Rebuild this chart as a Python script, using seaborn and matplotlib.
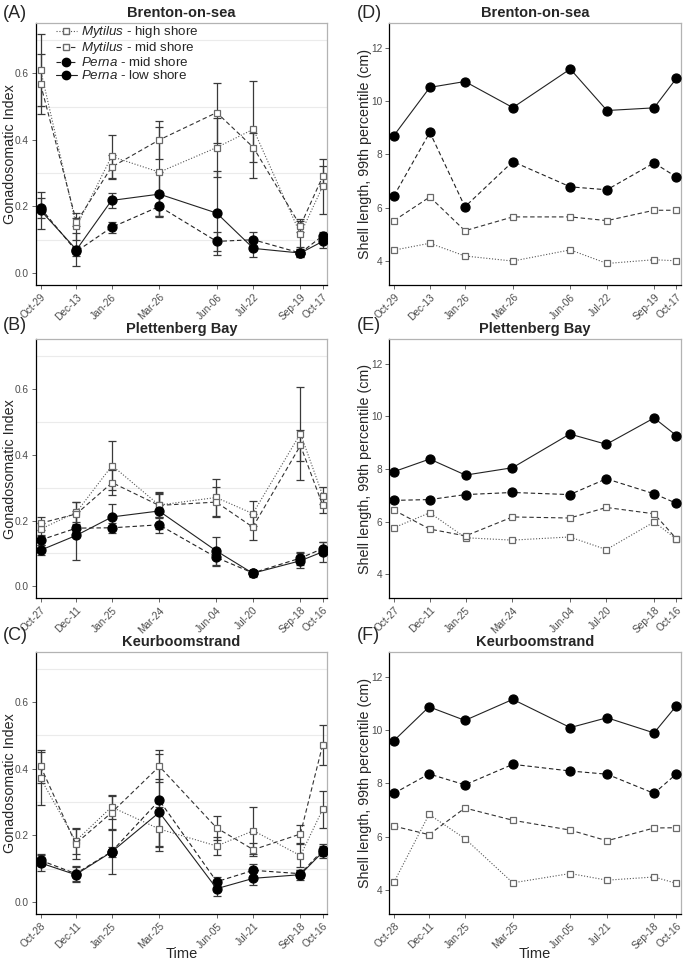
import numpy as np
import pandas as pd
import matplotlib
matplotlib.use("Agg")
import matplotlib.pyplot as plt
import matplotlib.dates as mdates
from matplotlib.lines import Line2D
import seaborn as sns

sns.set_theme(style="white")
plt.rcParams['font.family'] = ['Liberation Sans', 'DejaVu Sans']
plt.rcParams['mathtext.fontset'] = 'custom'
plt.rcParams['mathtext.it'] = 'Liberation Sans:italic'
plt.rcParams['mathtext.rm'] = 'Liberation Sans'

sites = ['Brenton-on-sea', 'Plettenberg Bay', 'Keurboomstrand']

brenton_dates = ['2015-10-29', '2015-12-13', '2016-01-26', '2016-03-26',
                 '2016-06-06', '2016-07-22', '2016-09-19', '2016-10-17']
plett_dates = ['2015-10-27', '2015-12-11', '2016-01-25', '2016-03-24',
               '2016-06-04', '2016-07-20', '2016-09-18', '2016-10-16']
keur_dates = ['2015-10-28', '2015-12-11', '2016-01-25', '2016-03-25',
              '2016-06-05', '2016-07-21', '2016-09-18', '2016-10-16']

# gonadosomatic index (mean, se) per group
brenton_gsi = {
    'myt_high': [0.61, 0.14, 0.35, 0.303, 0.377, 0.432, 0.117, 0.26],
    'myt_mid': [0.567, 0.153, 0.318, 0.40, 0.482, 0.377, 0.142, 0.29],
    'per_mid': [0.195, 0.065, 0.137, 0.20, 0.095, 0.10, 0.06, 0.112],
    'per_low': [0.188, 0.07, 0.218, 0.237, 0.18, 0.074, 0.06, 0.095],
}
brenton_se = {
    'myt_high': [0.107, 0.04, 0.065, 0.135, 0.09, 0.146, 0.04, 0.083],
    'myt_mid': [0.09, 0.013, 0.035, 0.058, 0.09, 0.045, 0.02, 0.03],
    'per_mid': [0.03, 0.015, 0.017, 0.03, 0.029, 0.024, 0.013, 0.012],
    'per_low': [0.055, 0.05, 0.022, 0.065, 0.127, 0.027, 0.012, 0.02],
}
plett_gsi = {
    'myt_high': [0.174, 0.225, 0.367, 0.247, 0.27, 0.221, 0.464, 0.276],
    'myt_mid': [0.192, 0.22, 0.315, 0.246, 0.256, 0.18, 0.428, 0.246],
    'per_mid': [0.141, 0.177, 0.178, 0.187, 0.088, 0.041, 0.086, 0.115],
    'per_low': [0.11, 0.155, 0.211, 0.229, 0.108, 0.04, 0.078, 0.105],
}
plett_se = {
    'myt_high': [0.02, 0.03, 0.075, 0.04, 0.055, 0.037, 0.14, 0.027],
    'myt_mid': [0.02, 0.035, 0.037, 0.035, 0.045, 0.04, 0.046, 0.022],
    'per_mid': [0.015, 0.012, 0.016, 0.025, 0.025, 0.01, 0.02, 0.02],
    'per_low': [0.015, 0.075, 0.038, 0.055, 0.042, 0.01, 0.022, 0.03],
}
keur_gsi = {
    'myt_high': [0.371, 0.183, 0.285, 0.219, 0.168, 0.214, 0.139, 0.278],
    'myt_mid': [0.407, 0.175, 0.268, 0.407, 0.222, 0.157, 0.204, 0.472],
    'per_mid': [0.125, 0.085, 0.151, 0.305, 0.061, 0.095, 0.085, 0.155],
    'per_low': [0.117, 0.082, 0.15, 0.269, 0.04, 0.071, 0.082, 0.15],
}
keur_se = {
    'myt_high': [0.08, 0.04, 0.035, 0.065, 0.027, 0.07, 0.035, 0.055],
    'myt_mid': [0.05, 0.045, 0.05, 0.048, 0.036, 0.02, 0.027, 0.06],
    'per_mid': [0.018, 0.022, 0.015, 0.14, 0.015, 0.018, 0.012, 0.018],
    'per_low': [0.025, 0.022, 0.065, 0.1, 0.022, 0.021, 0.015, 0.018],
}

# shell length, 99th percentile (cm)
brenton_len = {
    'myt_high': [4.40, 4.66, 4.18, 3.99, 4.41, 3.90, 4.04, 4.00],
    'myt_mid': [5.51, 6.40, 5.13, 5.65, 5.65, 5.51, 5.90, 5.90],
    'per_mid': [6.44, 8.83, 6.03, 7.73, 6.78, 6.67, 7.68, 7.15],
    'per_low': [8.71, 10.52, 10.74, 9.76, 11.21, 9.65, 9.75, 10.86],
}
plett_len = {
    'myt_high': [5.77, 6.34, 5.39, 5.30, 5.42, 4.94, 5.99, 5.34],
    'myt_mid': [6.44, 5.72, 5.46, 6.18, 6.14, 6.54, 6.30, 5.35],
    'per_mid': [6.81, 6.84, 7.03, 7.11, 7.03, 7.63, 7.06, 6.70],
    'per_low': [7.90, 8.38, 7.77, 8.05, 9.33, 8.94, 9.94, 9.27],
}
keur_len = {
    'myt_high': [4.28, 6.83, 5.92, 4.26, 4.61, 4.36, 4.48, 4.24],
    'myt_mid': [6.39, 6.07, 7.07, 6.61, 6.24, 5.84, 6.32, 6.33],
    'per_mid': [7.62, 8.35, 7.94, 8.71, 8.46, 8.34, 7.62, 8.35],
    'per_low': [9.60, 10.87, 10.36, 11.15, 10.09, 10.46, 9.89, 10.91],
}

groups = ['myt_high', 'myt_mid', 'per_mid', 'per_low']
labels = [r'$\it{Mytilus}$ - high shore', r'$\it{Mytilus}$ - mid shore',
          r'$\it{Perna}$ - mid shore', r'$\it{Perna}$ - low shore']
styles = {
    'myt_high': dict(ls=(0, (1, 1.6)), marker='s', ms=5, mfc='white', mec='#6a6a6a', color='#555555'),
    'myt_mid': dict(ls=(0, (4, 2.5)), marker='s', ms=5, mfc='white', mec='#6a6a6a', color='#333333'),
    'per_mid': dict(ls=(0, (4, 2.5)), marker='o', ms=6.5, mfc='black', mec='black', color='#222222'),
    'per_low': dict(ls='-', marker='o', ms=6.5, mfc='black', mec='black', color='#222222'),
}

site_dates = [brenton_dates, plett_dates, keur_dates]
site_gsi = [brenton_gsi, plett_gsi, keur_gsi]
site_se = [brenton_se, plett_se, keur_se]
site_len = [brenton_len, plett_len, keur_len]

fig = plt.figure(figsize=(6.85, 9.61), dpi=100)
W, H = 685, 961
rows = [(23, 285), (339, 598.3), (651.7, 914)]
cols = [(36, 327), (389.3, 680.7)]
letters = [['(A)', '(D)'], ['(B)', '(E)'], ['(C)', '(F)']]
label_y = [13, 325, 636]


def style_axes(ax, dates):
    d = pd.to_datetime(dates)
    ax.set_xlim(d[0] - pd.Timedelta(days=5.8), d[-1] + pd.Timedelta(days=5.4))
    ax.set_xticks(d)
    ax.xaxis.set_major_formatter(mdates.DateFormatter('%b-%d'))
    for lab in ax.get_xticklabels():
        lab.set_rotation(45)
        lab.set_ha('right')
        lab.set_rotation_mode('anchor')
    ax.tick_params(axis='both', labelsize=7.3, colors='#4d4d4d', length=3, width=0.6,
                   left=True, bottom=True, pad=2)
    for s in ['left', 'bottom']:
        ax.spines[s].set_color('black')
        ax.spines[s].set_linewidth(0.9)
    for s in ['top', 'right']:
        ax.spines[s].set_color('#b3b3b3')
        ax.spines[s].set_linewidth(0.9)
    ax.set_facecolor('white')


for r in range(3):
    dates = pd.to_datetime(site_dates[r])
    for c in range(2):
        x0, x1 = cols[c]
        t, b = rows[r]
        axw = x1 - x0
        axh = b - t
        ax = fig.add_axes([x0 / W, (H - b) / H, axw / W, axh / H])
        if c == 0:
            ax.set_yticks([0.1, 0.3, 0.5, 0.7], minor=True)
            ax.grid(which='minor', axis='y', color='#ebebeb', lw=0.8)
            ax.tick_params(which='minor', left=False)
            for g in groups:
                ax.errorbar(dates, site_gsi[r][g], yerr=site_se[r][g], fmt='none',
                            ecolor='#3a3a3a', elinewidth=0.9, capsize=3.2, capthick=0.9, zorder=2)
            for g in groups:
                st = styles[g]
                sns.lineplot(x=dates, y=site_gsi[r][g], ax=ax, color=st['color'],
                             linestyle=st['ls'], linewidth=0.8, marker=st['marker'],
                             markersize=st['ms'], markerfacecolor=st['mfc'],
                             markeredgecolor=st['mec'], markeredgewidth=0.9, zorder=3)
            ax.set_ylim(-0.036, 0.751)
            ax.set_yticks([0.0, 0.2, 0.4, 0.6])
            ax.set_yticklabels(['0.0', '0.2', '0.4', '0.6'])
            ax.set_ylabel('Gonadosomatic Index', fontsize=10.3)
            ax.yaxis.set_label_coords(-26 / axw, 0.5)
        else:
            for g in groups:
                st = styles[g]
                sns.lineplot(x=dates, y=site_len[r][g], ax=ax, color=st['color'],
                             linestyle=st['ls'], linewidth=0.8, marker=st['marker'],
                             markersize=st['ms'], markerfacecolor=st['mfc'],
                             markeredgecolor=st['mec'], markeredgewidth=0.9, zorder=3)
            ax.set_ylim(3.09, 12.94)
            ax.set_yticks([4, 6, 8, 10, 12])
            ax.set_ylabel('Shell length, 99th percentile (cm)', fontsize=10.3)
            ax.yaxis.set_label_coords(-24 / axw, 0.5)
        ax.yaxis.label.set_va('center')
        style_axes(ax, site_dates[r])
        ax.set_title(sites[r], fontsize=10.5, fontweight='bold', pad=4)
        if r == 2:
            ax.set_xlabel('Time', fontsize=10.5)
            ax.xaxis.set_label_coords(0.5, -33 / axh)
        else:
            ax.set_xlabel('')
        fig.text((3 if c == 0 else 357) / W, 1 - label_y[r] / H, letters[r][c],
                 fontsize=13, va='center', ha='left')
        if r == 0 and c == 0:
            handles = [Line2D([], [], color=styles[g]['color'], linestyle=styles[g]['ls'],
                              linewidth=0.8, marker=styles[g]['marker'],
                              markersize=styles[g]['ms'] - 0.5,
                              markerfacecolor=styles[g]['mfc'],
                              markeredgecolor=styles[g]['mec']) for g in groups]
            ax.legend(handles, labels, loc='upper left', bbox_to_anchor=(0.04, 1.025),
                      frameon=False, fontsize=9.6, handlelength=1.6, handletextpad=0.3,
                      labelspacing=0.0, borderaxespad=0.2)

fig.savefig('out.png', dpi=100)
